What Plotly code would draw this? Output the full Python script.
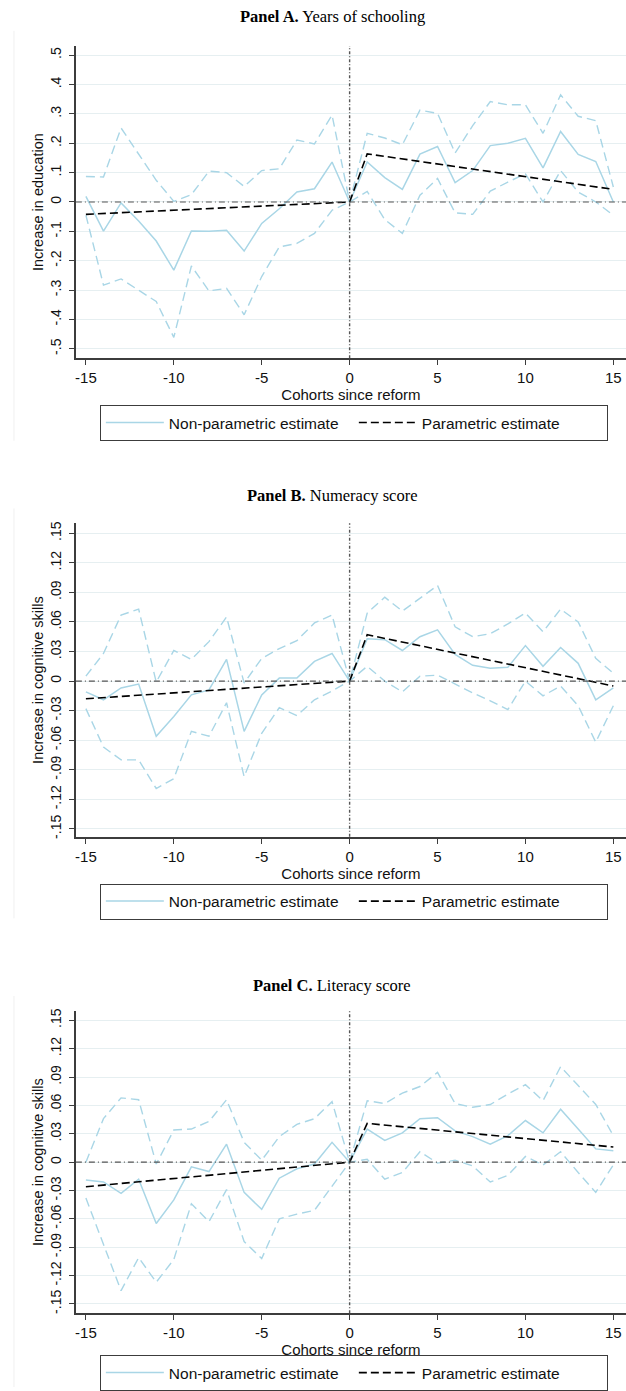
import plotly.graph_objects as go

# ---------------- data ----------------
cohorts = [-15, -14, -13, -12, -11, -10, -9, -8, -7, -6, -5, -4, -3, -2, -1, 0,
           1, 2, 3, 4, 5, 6, 7, 8, 9, 10, 11, 12, 13, 14, 15]
param_cohorts = [-15, 0, 1, 15]

x_tickvals = [-15, -10, -5, 0, 5, 10, 15]
x_ticktext = ["-15", "-10", "-5", "0", "5", "10", "15"]

a_tickvals = [0.5, 0.4, 0.3, 0.2, 0.1, 0, -0.1, -0.2, -0.3, -0.4, -0.5]
a_ticktext = [".5", ".4", ".3", ".2", ".1", "0", "-.1", "-.2", "-.3", "-.4", "-.5"]
bc_tickvals = [0.15, 0.12, 0.09, 0.06, 0.03, 0, -0.03, -0.06, -0.09, -0.12, -0.15]
bc_ticktext = [".15", ".12", ".09", ".06", ".03", "0", "-.03", "-.06", "-.09", "-.12", "-.15"]

# Panel A: years of schooling
a_point = [0.019, -0.099, -0.003, -0.065, -0.133, -0.232, -0.099, -0.100, -0.096, -0.167, -0.073,
           -0.023, 0.034, 0.045, 0.136, 0.0, 0.136, 0.083, 0.043, 0.163, 0.189, 0.066, 0.107,
           0.192, 0.200, 0.217, 0.116, 0.240, 0.162, 0.138, 0.0]
a_upper = [0.087, 0.085, 0.252, 0.165, 0.074, 0.002, 0.025, 0.105, 0.100, 0.053, 0.107, 0.113,
           0.211, 0.198, 0.296, 0.0, 0.234, 0.218, 0.195, 0.313, 0.302, 0.167, 0.260, 0.342,
           0.331, 0.331, 0.234, 0.365, 0.292, 0.277, 0.051]
a_lower = [-0.045, -0.283, -0.262, -0.300, -0.339, -0.461, -0.218, -0.303, -0.294, -0.384, -0.254,
           -0.153, -0.141, -0.107, -0.028, 0.0, 0.036, -0.060, -0.107, 0.023, 0.080, -0.037,
           -0.042, 0.037, 0.068, 0.096, 0.0, 0.107, 0.034, 0.0, -0.045]
a_param = [-0.042, 0.0, 0.164, 0.043]

# Panel B: numeracy score
b_point = [-0.011, -0.019, -0.007, -0.003, -0.056, -0.036, -0.014, -0.009, 0.022, -0.051, -0.014,
           0.003, 0.003, 0.020, 0.028, 0.0, 0.043, 0.042, 0.031, 0.045, 0.052, 0.027, 0.016,
           0.013, 0.014, 0.036, 0.015, 0.034, 0.018, -0.019, -0.007]
b_upper = [0.005, 0.028, 0.067, 0.073, -0.001, 0.031, 0.022, 0.040, 0.065, -0.002, 0.023, 0.033,
           0.041, 0.059, 0.067, 0.0, 0.069, 0.085, 0.071, 0.084, 0.097, 0.055, 0.045, 0.048,
           0.058, 0.069, 0.050, 0.073, 0.060, 0.023, 0.008]
b_lower = [-0.028, -0.067, -0.080, -0.080, -0.109, -0.099, -0.051, -0.056, -0.022, -0.097, -0.053,
           -0.027, -0.035, -0.019, -0.010, 0.0, 0.015, 0.0, -0.011, 0.005, 0.006, -0.003, -0.012,
           -0.020, -0.029, 0.0, -0.015, -0.005, -0.025, -0.062, -0.025]
b_param = [-0.018, 0.0, 0.047, -0.005]

# Panel C: literacy score
c_point = [-0.019, -0.021, -0.033, -0.018, -0.065, -0.040, -0.005, -0.010, 0.019, -0.032, -0.050,
           -0.017, -0.007, -0.002, 0.021, 0.0, 0.035, 0.023, 0.031, 0.046, 0.047, 0.033, 0.027,
           0.019, 0.028, 0.044, 0.031, 0.056, 0.035, 0.014, 0.012]
c_upper = [0.0, 0.046, 0.068, 0.066, -0.002, 0.034, 0.035, 0.043, 0.066, 0.021, 0.002, 0.027,
           0.040, 0.046, 0.064, 0.0, 0.065, 0.062, 0.073, 0.080, 0.095, 0.062, 0.058, 0.061,
           0.072, 0.082, 0.065, 0.101, 0.081, 0.061, 0.028]
c_lower = [-0.038, -0.086, -0.136, -0.101, -0.127, -0.103, -0.044, -0.063, -0.029, -0.084, -0.102,
           -0.060, -0.055, -0.051, -0.025, 0.0, 0.003, -0.018, -0.011, 0.011, -0.001, 0.002,
           -0.004, -0.021, -0.014, 0.006, -0.003, 0.011, -0.011, -0.032, -0.003]
c_param = [-0.026, 0.0, 0.041, 0.016]

titles = ["<b>Panel A.</b> Years of schooling",
          "<b>Panel B.</b> Numeracy score",
          "<b>Panel C.</b> Literacy score"]
y_titles = ["Increase in education", "Increase in cognitive skills", "Increase in cognitive skills"]
x_title = "Cohorts since reform"
legend_labels = ["Non-parametric estimate", "Parametric estimate"]

# ---------------- layout geometry ----------------
W, H = 626, 1391
LIGHTBLUE = "#a9d6e6"
GRID = "#e6eff1"
AXIS = "#3c3c3c"
SANS = "Liberation Sans, Arial, sans-serif"
SERIF = "Liberation Serif, Times New Roman, serif"


def py(px):
    return 1 - px / H


panels = [
    dict(point=a_point, upper=a_upper, lower=a_lower, param=a_param,
         tv=a_tickvals, tt=a_ticktext, yr=[-0.532, 0.531], top=43.3, bot=357,
         title_y=14, leg_top=404, border=(28, 440)),
    dict(point=b_point, upper=b_upper, lower=b_lower, param=b_param,
         tv=bc_tickvals, tt=bc_ticktext, yr=[-0.158, 0.160], top=523, bot=838,
         title_y=495, leg_top=885, border=(508, 920)),
    dict(point=c_point, upper=c_upper, lower=c_lower, param=c_param,
         tv=bc_tickvals, tt=bc_ticktext, yr=[-0.160, 0.160], top=1013, bot=1317,
         title_y=987, leg_top=1359, border=(998, 1391)),
]

fig = go.Figure()
layout = dict(width=W, height=H, margin=dict(l=0, r=0, t=0, b=0),
              paper_bgcolor="white", plot_bgcolor="white", showlegend=True,
              font=dict(family=SANS, color="#111"))
shapes = []
annotations = []

for i, p in enumerate(panels):
    sfx = "" if i == 0 else str(i + 1)
    xa, ya = "x" + sfx, "y" + sfx
    leg = "legend" + sfx

    fig.add_trace(go.Scatter(x=cohorts, y=p["upper"], xaxis=xa, yaxis=ya, mode="lines",
                             line=dict(color=LIGHTBLUE, width=1.4, dash="9px,5px"),
                             showlegend=False, hoverinfo="skip"))
    fig.add_trace(go.Scatter(x=cohorts, y=p["lower"], xaxis=xa, yaxis=ya, mode="lines",
                             line=dict(color=LIGHTBLUE, width=1.4, dash="9px,5px"),
                             showlegend=False, hoverinfo="skip"))
    fig.add_trace(go.Scatter(x=cohorts, y=p["point"], xaxis=xa, yaxis=ya, mode="lines",
                             line=dict(color=LIGHTBLUE, width=1.5),
                             name=legend_labels[0], legend=leg))
    fig.add_trace(go.Scatter(x=param_cohorts, y=p["param"], xaxis=xa, yaxis=ya, mode="lines",
                             line=dict(color="black", width=1.6, dash="8px,4px"),
                             name=legend_labels[1], legend=leg))

    layout["xaxis" + sfx] = dict(
        domain=[75 / W, 1], anchor=ya, range=[-15.57, 15.72],
        tickvals=x_tickvals, ticktext=x_ticktext, ticks="outside", ticklen=5,
        tickcolor=AXIS, tickwidth=1.3, showline=True, linecolor=AXIS, linewidth=1.5,
        showgrid=False, zeroline=False, tickfont=dict(size=15, family=SANS, color="#111"),
        title=dict(text=x_title, font=dict(size=15, family=SANS, color="#111"), standoff=0))
    layout["yaxis" + sfx] = dict(
        domain=[py(p["bot"]), py(p["top"])], anchor=xa, range=p["yr"],
        tickvals=p["tv"], ticktext=p["tt"], tickangle=-90, ticks="outside", ticklen=5,
        ticklabelstandoff=3,
        tickcolor=AXIS, tickwidth=1.3, showline=True, linecolor=AXIS, linewidth=1.5,
        showgrid=True, gridcolor=GRID, gridwidth=1.3, zeroline=False,
        tickfont=dict(size=14, family=SANS, color="#111"),
        title=dict(text=y_titles[i], font=dict(size=14.5, family=SANS, color="#111"), standoff=0))

    layout[leg] = dict(x=99 / W, y=py(p["leg_top"]), xanchor="left", yanchor="top",
                       orientation="h", bordercolor=AXIS, borderwidth=1, bgcolor="white",
                       font=dict(size=15.5, family=SANS, color="#111"), entrywidth=180,
                       entrywidthmode="pixels", itemwidth=58)

    # reference lines at 0
    shapes.append(dict(type="line", xref=xa + " domain", x0=0, x1=1, yref=ya, y0=0, y1=0,
                       line=dict(color="#555", width=1.2, dash="6px,3px,1px,3px"), layer="above"))
    shapes.append(dict(type="line", xref=xa, x0=0, x1=0, yref=ya + " domain", y0=0, y1=1,
                       line=dict(color="#555", width=1.4, dash="3px,2px,1px,2px"), layer="above"))
    # faint graph-region border
    shapes.append(dict(type="line", xref="paper", yref="paper", x0=13 / W, x1=13 / W,
                       y0=py(p["border"][1]), y1=py(p["border"][0]),
                       line=dict(color="#f0f0f0", width=1)))

    annotations.append(dict(text=titles[i], xref="paper", yref="paper", x=332 / W,
                            y=py(p["title_y"]), xanchor="center", yanchor="middle",
                            showarrow=False, font=dict(size=16.5, family=SERIF, color="black")))

layout["shapes"] = shapes
layout["annotations"] = annotations
fig.update_layout(**layout)

fig.write_html("out.html", config={"displayModeBar": False},
               post_script="document.body.style.margin='0px';document.body.style.overflow='hidden';")
